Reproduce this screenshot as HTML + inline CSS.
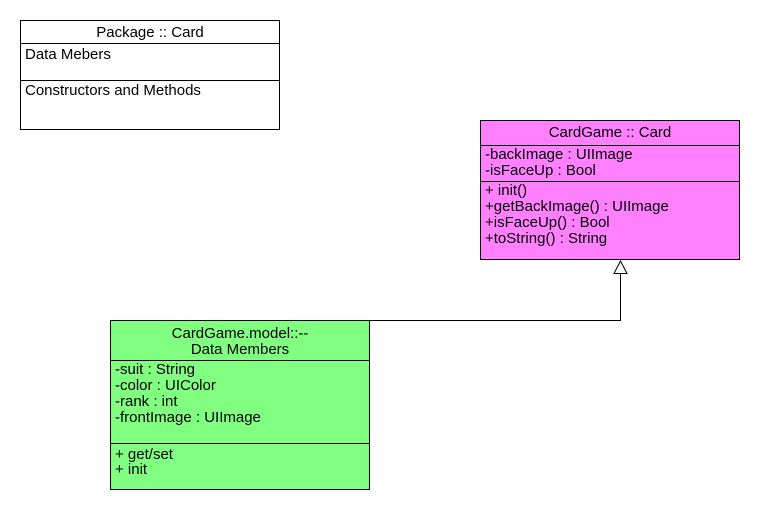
<!DOCTYPE html>
<html><head><meta charset="utf-8"><style>
html,body{margin:0;padding:0;background:#fff;}
svg{display:block}
text{font-family:"Liberation Sans","DejaVu Sans",sans-serif;font-size:15px;fill:#000}
</style></head><body>
<svg width="760" height="510" viewBox="0 0 760 510" xmlns="http://www.w3.org/2000/svg">
<g stroke="#000" stroke-width="1" shape-rendering="crispEdges">
<rect x="20.5" y="20.5" width="259" height="109" fill="#fff"/>
<line x1="20" y1="43.5" x2="280" y2="43.5"/>
<line x1="20" y1="80.5" x2="280" y2="80.5"/>
<rect x="480.5" y="120.5" width="259" height="139" fill="#ff80ff"/>
<line x1="480" y1="145.5" x2="740" y2="145.5"/>
<line x1="480" y1="181.5" x2="740" y2="181.5"/>
<rect x="110.5" y="320.5" width="259" height="169" fill="#80ff80"/>
<line x1="110" y1="360.5" x2="370" y2="360.5"/>
<line x1="110" y1="443.5" x2="370" y2="443.5"/>
<polyline points="370,320.5 620.5,320.5 620.5,273" fill="none"/>
</g>
<polygon points="620.5,261 614,273.5 627,273.5" fill="#fff" stroke="#000" stroke-width="1"/>
<text x="150" y="37" text-anchor="middle">Package :: Card</text>
<text x="25" y="59">Data Mebers</text>
<text x="25" y="95">Constructors and Methods</text>
<text x="610" y="137" text-anchor="middle">CardGame :: Card</text>
<text x="485" y="159">-backImage : UIImage</text>
<text x="485" y="175">-isFaceUp : Bool</text>
<text x="485" y="195">+ init()</text>
<text x="485" y="211">+getBackImage() : UIImage</text>
<text x="485" y="227">+isFaceUp() : Bool</text>
<text x="485" y="243">+toString() : String</text>
<text x="240" y="338" text-anchor="middle">CardGame.model::--</text>
<text x="240" y="354" text-anchor="middle">Data Members</text>
<text x="115" y="374">-suit : String</text>
<text x="115" y="390">-color : UIColor</text>
<text x="115" y="406">-rank : int</text>
<text x="115" y="422">-frontImage : UIImage</text>
<text x="115" y="459">+ get/set</text>
<text x="115" y="474">+ init</text>
</svg>
</body></html>
